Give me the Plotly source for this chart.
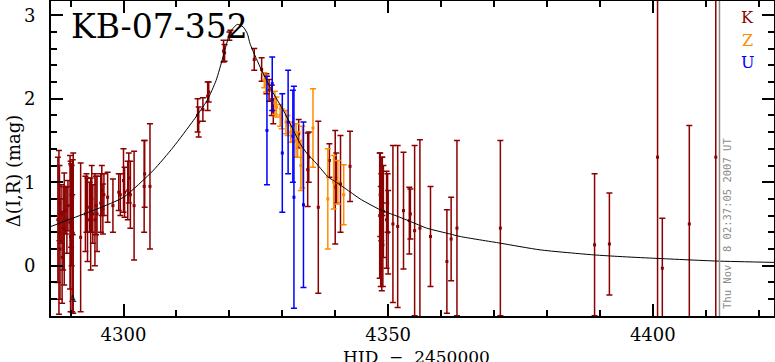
import plotly.graph_objects as go

# ---------------- data ----------------
# K (dark red) observations: HJD-2450000, Delta mag, error
k_t = [4287.6, 4287.8, 4287.9, 4288.0, 4288.2, 4288.4, 4288.6, 4288.8,
       4289.1, 4289.3, 4289.5, 4289.9, 4290.0, 4290.1, 4290.2, 4290.3, 4290.4, 4290.5,
       4291.9, 4292.8, 4293.0, 4293.2, 4293.6, 4293.8, 4294.0, 4294.2,
       4294.6, 4294.8, 4295.0, 4295.7, 4295.9, 4296.1, 4296.3, 4297.0, 4298.0,
       4299.1, 4299.4, 4300.0, 4300.2, 4300.8, 4301.0, 4301.3, 4302.0, 4303.9, 4304.0, 4305.0,
       4314.0, 4314.2, 4315.0, 4315.9, 4316.1, 4318.9, 4319.1, 4320.0, 4320.2,
       4324.7, 4326.1, 4327.0, 4327.5, 4328.0, 4328.3, 4333.1, 4334.8, 4335.0, 4336.8,
       4338.9, 4340.0, 4340.2, 4341.0, 4342.8,
       4348.4, 4348.5, 4348.6, 4348.7, 4348.8, 4348.9, 4349.0, 4349.1,
       4349.7, 4349.9, 4350.0, 4350.9, 4351.8, 4352.9, 4354.0, 4354.2, 4355.0, 4356.0,
       4358.0, 4361.1, 4361.9, 4363.0, 4371.2, 4389.0, 4391.8, 4400.9, 4401.8, 4406.9, 4411.9]
k_m = [0.55, 0.40, 0.75, 0.20, 0.62, 0.10, 0.45, 0.44,
       0.66, 0.55, 0.72, 0.52, 0.35, 0.72, 0.60, 0.15, 0.82, 0.39,
       0.34, 0.62, 0.75, 0.55, 0.70, 0.50, 0.80, 0.62,
       0.55, 0.72, 0.62, 0.75, 0.90, 0.68, 0.85, 0.82, 0.72,
       0.88, 0.85, 1.02, 0.88, 0.90, 1.05, 0.85, 0.72, 0.95, 1.10, 0.95,
       1.80, 1.72, 1.87, 2.03, 2.08, 2.57, 2.55, 2.75, 2.78,
       2.47, 2.35, 2.18, 2.10, 1.98, 1.85, 1.58, 1.15, 1.30, 0.70,
       1.26, 0.94, 1.05, 0.98, 1.19,
       0.60, 0.85, 0.35, 0.70, 0.50, 0.95, 0.25, 0.65,
       0.55, 0.75, 0.40, 0.50, 0.47, 0.66, 0.54, 0.62, 0.42, 0.45,
       0.35, 0.05, 0.32, 0.45, 0.45, 0.25, 0.26, 1.30, -0.03, 0.50, 1.30]
k_e = [0.75, 0.98, 0.45, 0.60, 0.35, 0.55, 0.50, 0.67,
       0.28, 0.40, 0.30, 0.80, 0.90, 0.50, 0.60, 0.70, 0.45, 0.96,
       0.89, 0.45, 0.35, 0.50, 0.30, 0.55, 0.40, 0.35,
       0.55, 0.35, 0.45, 0.35, 0.30, 0.30, 0.25, 0.30, 0.32,
       0.22, 0.25, 0.38, 0.30, 0.35, 0.30, 0.40, 0.65, 0.55, 0.40, 0.75,
       0.20, 0.18, 0.14, 0.17, 0.12, 0.13, 0.10, 0.05, 0.04,
       0.13, 0.14, 0.12, 0.13, 0.18, 0.15, 0.17, 0.44, 0.30, 1.03,
       0.20, 0.68, 0.30, 0.58, 0.42,
       0.75, 0.50, 0.60, 0.40, 0.80, 0.35, 0.50, 0.55,
       0.58, 0.35, 0.50, 0.94, 0.97, 0.70, 0.40, 0.30, 1.02, 1.06,
       0.60, 0.62, 0.50, 1.05, 1.05, 0.85, 0.61, 1.95, 0.60, 1.18, 2.00]

# Z (orange) observations
z_t = [4326.6, 4326.9, 4328.6, 4328.9, 4329.6, 4329.9, 4330.7, 4331.0, 4331.6, 4331.9,
       4332.6, 4332.9, 4333.5, 4333.8, 4335.8, 4338.6, 4339.7, 4340.5, 4341.6]
z_m = [2.22, 2.18, 1.95, 1.90, 1.80, 1.76, 1.72, 1.68, 1.60, 1.58,
       1.50, 1.45, 1.20, 1.30, 1.65, 0.80, 1.00, 1.00, 0.85]
z_e = [0.09, 0.10, 0.14, 0.12, 0.13, 0.12, 0.14, 0.12, 0.12, 0.10,
       0.20, 0.15, 0.30, 0.37, 0.47, 0.60, 0.32, 0.26, 0.36]

# U (blue) observations
u_t = [4327.1, 4328.1, 4330.0, 4331.1, 4332.0, 4332.2, 4334.0]
u_m = [1.62, 2.18, 1.35, 1.72, 1.55, 0.82, 0.73]
u_e = [0.65, 0.32, 0.71, 0.62, 0.55, 1.33, 0.99]

# model curve
fit_t = [4286.3, 4290.0, 4295.0, 4300.0, 4305.6, 4309.4, 4313.2, 4315.8, 4317.5,
         4318.8, 4320.2, 4321.5, 4322.6, 4323.4, 4323.9, 4325.8, 4328.0, 4330.2,
         4333.4, 4334.6, 4336.5, 4338.7, 4339.7, 4342.8, 4344.7, 4348.5, 4351.0,
         4354.2, 4357.3, 4361.7, 4363.6, 4371.2, 4378.7, 4388.8, 4393.8, 4400.0,
         4412.1, 4422.9]
fit_m = [0.47, 0.56, 0.68, 0.82, 1.14, 1.42, 1.74, 1.98, 2.22,
         2.50, 2.80, 2.89, 2.86, 2.78, 2.66, 2.38, 2.10, 1.86,
         1.46, 1.35, 1.22, 1.06, 1.02, 0.885, 0.80, 0.67, 0.61,
         0.53, 0.45, 0.38, 0.35, 0.27, 0.19, 0.13, 0.11, 0.09,
         0.056, 0.04]

x_ticks = [4300, 4350, 4400]
y_ticks = [0, 1, 2, 3]
x_range = [4286.3, 4422.9]
y_range = [-0.602, 3.17]

K_COL = "#8b0000"
Z_COL = "#ff8c00"
U_COL = "#0000ff"
FONT = "DejaVu Serif"

fig = go.Figure()

def add_obs(t, m, e, col):
    fig.add_trace(go.Scatter(
        x=t, y=m, mode="markers",
        marker=dict(symbol="square", size=3, color=col, line=dict(width=0)),
        error_y=dict(type="data", array=e, visible=True, color=col,
                     thickness=1.5, width=3),
        showlegend=False, hoverinfo="skip"))

add_obs(k_t, k_m, k_e, K_COL)
add_obs(z_t, z_m, z_e, Z_COL)
add_obs(u_t, u_m, u_e, U_COL)

fig.add_trace(go.Scatter(x=fit_t, y=fit_m, mode="lines",
                         line=dict(color="black", width=1, shape="spline", smoothing=0.6),
                         showlegend=False, hoverinfo="skip"))

# grey date marker line
fig.add_shape(type="line", xref="x", yref="paper", x0=4412.6, x1=4412.6, y0=0, y1=1,
              line=dict(color="#8c8c8c", width=1.5))

axis_common = dict(showgrid=False, zeroline=False, showline=True, linecolor="black",
                   linewidth=2, mirror="allticks", ticks="inside", ticklen=12,
                   tickwidth=1.5, tickcolor="black", automargin=False,
                   tickfont=dict(family=FONT, size=18, color="black"))

fig.update_xaxes(range=x_range, tickvals=x_ticks, ticklabelstandoff=1,
                 minor=dict(dtick=10, tick0=4300, ticks="inside", ticklen=6,
                            tickwidth=1.5, tickcolor="black"),
                 **axis_common)
fig.update_yaxes(range=y_range, tickvals=y_ticks, ticklabelstandoff=10,
                 minor=dict(dtick=0.2, tick0=0, ticks="inside", ticklen=6,
                            tickwidth=1.5, tickcolor="black"),
                 **axis_common)

ann = []
ann.append(dict(text="KB-07-352", xref="paper", yref="paper", x=0.025, y=0.92,
                xanchor="left", yanchor="middle", showarrow=False,
                font=dict(family=FONT, size=33, color="black")))
for lab, col, yy in [("K", K_COL, 0.949), ("Z", Z_COL, 0.876), ("U", U_COL, 0.806)]:
    ann.append(dict(text=lab, xref="paper", yref="paper", x=0.964, y=yy,
                    xanchor="center", yanchor="middle", showarrow=False,
                    font=dict(family=FONT, size=16, color=col)))
ann.append(dict(text="Thu Nov  8 02:37:05 2007 UT", xref="x", yref="paper",
                x=4414.0, y=0.295, textangle=-90, showarrow=False,
                xanchor="center", yanchor="middle",
                font=dict(family="DejaVu Sans Mono", size=10.5, color="#8c8c8c")))
ann.append(dict(text="A", xref="x", yref="y", x=4290.3, y=-0.39, showarrow=False,
                font=dict(family=FONT, size=10, color="black")))
ann.append(dict(text="Δ(I,R) (mag)", xref="paper", yref="paper", x=-0.0526, y=0.463,
                textangle=-90, showarrow=False, xanchor="center", yanchor="middle",
                font=dict(family=FONT, size=18, color="black")))
ann.append(dict(text="HJD  −  2450000", xref="paper", yref="paper", x=0.506, y=-0.092,
                showarrow=False, xanchor="center", yanchor="top",
                font=dict(family=FONT, size=17, color="black")))

fig.update_layout(width=775, height=362,
                  margin=dict(l=51, r=1, t=1, b=46, autoexpand=False),
                  paper_bgcolor="white", plot_bgcolor="white", annotations=ann)

fig.write_html("out.html", config={"displayModeBar": False},
               post_script="document.body.style.margin='0';document.body.style.overflow='hidden';")
